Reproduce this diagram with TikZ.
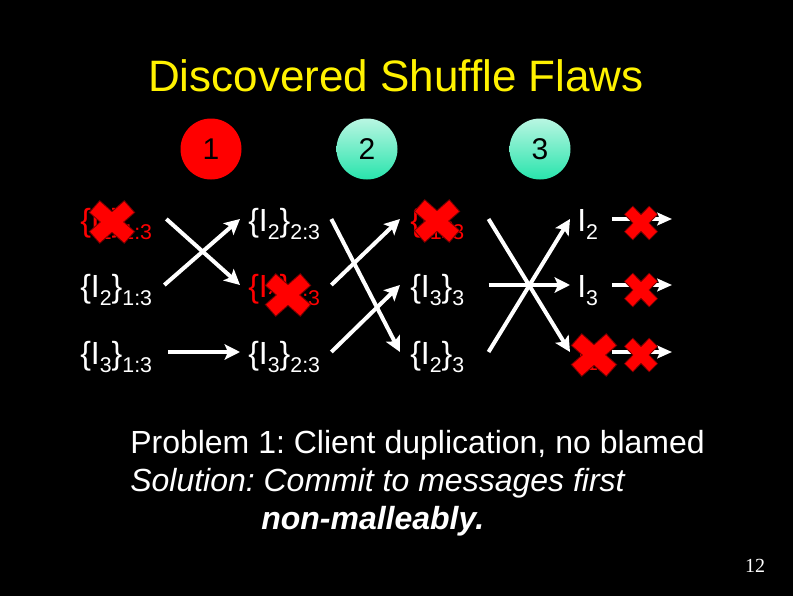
\documentclass[tikz,border=0pt]{standalone}
\usepackage{fontspec}
\setmainfont{Liberation Sans}
\newfontfamily\pgnumfont{Liberation Serif}
\usetikzlibrary{arrows.meta,calc}
\definecolor{xred}{RGB}{255,0,0}
\definecolor{xdark}{RGB}{120,0,0}
\definecolor{mintT}{RGB}{185,246,226}
\definecolor{mintB}{RGB}{40,228,172}
\newcommand\sbs[1]{\raisebox{-6pt}{\fontsize{16pt}{16pt}\selectfont #1}}
\frenchspacing
\begin{document}
\begin{tikzpicture}[x=0.75pt,y=-0.75pt,
  txt/.style={inner sep=0pt, anchor=base west, text=white, font=\fontsize{24pt}{28pt}\selectfont},
  redtxt/.style={txt, text=xred},
  body/.style={inner sep=0pt, anchor=base west, text=white, font=\fontsize{24pt}{28pt}\selectfont},
  ball/.style={circle, minimum size=45.75pt, inner sep=0pt, text=black, font=\fontsize{22.5pt}{24pt}\selectfont},
  conn/.style={draw=white, line width=3pt, -{Stealth[length=11.5pt,width=11.5pt,inset=2.5pt]}},
  sconn/.style={draw=white, line width=2.6pt, -{Stealth[length=11pt,width=9.5pt,inset=2pt]}},
  bigx/.pic={
    \draw[xdark, line width=12.4pt] (-17.8,-15.7) -- (17.8,15.7) (-17.8,15.7) -- (17.8,-15.7);
    \draw[xred, line width=10.8pt] (-17,-15) -- (17,15) (-17,15) -- (17,-15);
  },
  smallx/.pic={
    \draw[xdark, line width=9.4pt] (-12.6,-13) -- (12.6,13) (-12.6,13) -- (12.6,-13);
    \draw[xred, line width=7.9pt] (-12,-12.4) -- (12,12.4) (-12,12.4) -- (12,-12.4);
  }]
\fill[black] (0,0) rectangle (793,596);
\useasboundingbox (0,0) rectangle (793,596);

% title
\node[inner sep=0pt, anchor=base, text=yellow, font=\fontsize{33pt}{36pt}\selectfont] (title) at (396,91) {Discovered Shuffle Flaws};

% servers
\node[ball, fill=xred] (n1) at (211,149) {1};
\node[ball, top color=mintT, bottom color=mintB] (n2) at (367,149) {2};
\node[ball, top color=mintT, bottom color=mintB] (n3) at (540,149) {3};

% column 1
\node[redtxt] (a1) at (80,231) {\{I\sbs{1}\}\sbs{1:3}};
\node[txt] (a2) at (80,297) {\{I\sbs{2}\}\sbs{1:3}};
\node[txt] (a3) at (80,364) {\{I\sbs{3}\}\sbs{1:3}};
% column 2
\node[txt] (b1) at (248,231) {\{I\sbs{2}\}\sbs{2:3}};
\node[redtxt] (b2) at (248,297) {\{I\sbs{2}\}\sbs{2:3}};
\node[txt] (b3) at (248,364) {\{I\sbs{3}\}\sbs{2:3}};
% column 3
\node[redtxt] (c1) at (410,231) {\{I\sbs{1}\}\sbs{3}};
\node[txt] (c2) at (410,297) {\{I\sbs{3}\}\sbs{3}};
\node[txt] (c3) at (410,364) {\{I\sbs{2}\}\sbs{3}};
% column 4
\node[txt] (d1) at (577,231) {I\sbs{2}};
\node[txt] (d2) at (577,297) {I\sbs{3}};
\node[redtxt] (d3) at (577,362) {I\sbs{1}};

\coordinate (e1) at (672,219);
\coordinate (e2) at (672,285);
\coordinate (e3) at (672,352);

% connectors col1 -> col2
\draw[conn] ($(a1.base east)+(14,-12)$) -- ($(b2.base west)+(-8,-12)$);
\draw[conn] ($(a2.base east)+(12,-12)$) -- ($(b1.base west)+(-8,-12)$);
\draw[conn] ($(a3.base east)+(16,-12)$) -- ($(b3.base west)+(-8,-12)$);
% col2 -> col3
\draw[conn] ($(b1.base east)+(11,-12)$) -- ($(c3.base west)+(-10,-12)$);
\draw[conn] ($(b2.base east)+(11,-12)$) -- ($(c1.base west)+(-10,-12)$);
\draw[conn] ($(b3.base east)+(11,-12)$) -- ($(c2.base west)+(-10,-12)$);
% col3 -> col4
\draw[conn] ($(c1.base east)+(24,-12)$) -- ($(d3.base west)+(-7,-10)$);
\draw[conn] ($(c3.base east)+(24,-12)$) -- ($(d1.base west)+(-7,-12)$);
\draw[conn] ($(c2.base east)+(24,-12)$) -- ($(d2.base west)+(-7,-12)$);
% col4 -> out
\draw[sconn] ($(d1.base east)+(14,-12)$) -- (e1);
\draw[sconn] ($(d2.base east)+(14,-12)$) -- (e2);
\draw[sconn] ($(d3.base east)+(14,-10)$) -- (e3);

% crosses
\pic at (112,222) {bigx};
\pic at (288,295) {bigx};
\pic at (437,221) {bigx};
\pic at (594,355) {bigx};
\pic at (641,223) {smallx};
\pic at (641,290) {smallx};
\pic at (641,355) {smallx};

% text
\node[body] (p1) at (130,453) {Problem 1: Client duplication, no blamed};
\node[body] (p2) at (130,491) {\itshape Solution: Commit to messages first};
\node[body] (p3) at (261,529) {\bfseries\itshape non-malleably.};

\node[inner sep=0pt, anchor=base, text=white, font=\pgnumfont\fontsize{15pt}{15pt}\selectfont] (pg) at (755,572) {12};
\end{tikzpicture}
\end{document}
